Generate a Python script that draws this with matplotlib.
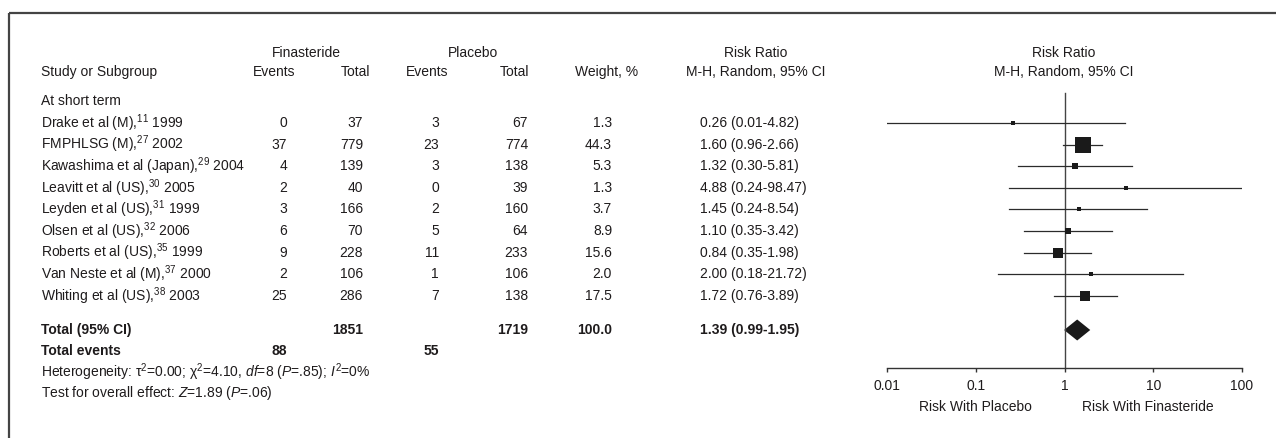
import numpy as np
import matplotlib
matplotlib.use("Agg")
import matplotlib.pyplot as plt
from matplotlib import font_manager
from matplotlib.patches import Polygon

# pick a condensed face if there is one
names = {f.name for f in font_manager.fontManager.ttflist}
FONT = "Liberation Sans Narrow" if "Liberation Sans Narrow" in names else "Liberation Sans"
plt.rcParams["font.family"] = [FONT, "DejaVu Sans"]
plt.rcParams["mathtext.fontset"] = "custom"
plt.rcParams["mathtext.rm"] = FONT
plt.rcParams["mathtext.it"] = FONT + ":italic"
plt.rcParams["mathtext.bf"] = FONT + ":bold"

studies = [
    "Drake et al (M),$^{11}$ 1999",
    "FMPHLSG (M),$^{27}$ 2002",
    "Kawashima et al (Japan),$^{29}$ 2004",
    "Leavitt et al (US),$^{30}$ 2005",
    "Leyden et al (US),$^{31}$ 1999",
    "Olsen et al (US),$^{32}$ 2006",
    "Roberts et al (US),$^{35}$ 1999",
    "Van Neste et al (M),$^{37}$ 2000",
    "Whiting et al (US),$^{38}$ 2003",
]
fin_events = [0, 37, 4, 2, 3, 6, 9, 2, 25]
fin_total = [37, 779, 139, 40, 166, 70, 228, 106, 286]
pla_events = [3, 23, 3, 0, 2, 5, 11, 1, 7]
pla_total = [67, 774, 138, 39, 160, 64, 233, 106, 138]
weights = [1.3, 44.3, 5.3, 1.3, 3.7, 8.9, 15.6, 2.0, 17.5]
rr = [0.26, 1.60, 1.32, 4.88, 1.45, 1.10, 0.84, 2.00, 1.72]
ci_lo = [0.01, 0.96, 0.30, 0.24, 0.24, 0.35, 0.35, 0.18, 0.76]
ci_hi = [4.82, 2.66, 5.81, 98.47, 8.54, 3.42, 1.98, 21.72, 3.89]

tot_fin_total = 1851
tot_pla_total = 1719
tot_fin_events = 88
tot_pla_events = 55
tot_weight = 100.0
tot_rr, tot_lo, tot_hi = 1.39, 0.99, 1.95

xticks = [0.01, 0.1, 1, 10, 100]
xtick_labels = ["0.01", "0.1", "1", "10", "100"]

W, H = 1276, 438
TXT = "#1e1b1c"
FS = 10

fig = plt.figure(figsize=(W / 100, H / 100), dpi=100)
bg = fig.add_axes([0, 0, 1, 1])
bg.set_xlim(0, W)
bg.set_ylim(H, 0)
bg.axis("off")

# frame (top and left only)
bg.plot([9, W], [13, 13], color="#444444", lw=1.6, solid_capstyle="butt")
bg.plot([9, 9], [13, H], color="#444444", lw=1.6, solid_capstyle="butt")

row0, step = 123, 21.6
rows = [row0 + i * step for i in range(len(studies))]
y_total = 330
y_events = 351
y_het = 372
y_test = 393


def t(x, y, s, ha="left", bold=False):
    bg.text(x, y, s, ha=ha, va="center", fontsize=FS, color=TXT,
            fontweight="bold" if bold else "normal")


# headers
t(306, 53, "Finasteride", ha="center")
t(473, 53, "Placebo", ha="center")
t(756, 53, "Risk Ratio", ha="center")
t(1064, 53, "Risk Ratio", ha="center")
t(41, 72, "Study or Subgroup")
t(295, 72, "Events", ha="right")
t(370, 72, "Total", ha="right")
t(448, 72, "Events", ha="right")
t(529, 72, "Total", ha="right")
t(638, 72, "Weight, %", ha="right")
t(756, 72, "M-H, Random, 95% CI", ha="center")
t(1064, 72, "M-H, Random, 95% CI", ha="center")

t(41, rows[0] - step, "At short term")
for i, y in enumerate(rows):
    t(41, y, studies[i])
    t(287, y, str(fin_events[i]), ha="right")
    t(363, y, str(fin_total[i]), ha="right")
    t(439, y, str(pla_events[i]), ha="right")
    t(528, y, str(pla_total[i]), ha="right")
    t(612, y, f"{weights[i]:.1f}", ha="right")
    t(700, y, f"{rr[i]:.2f} ({ci_lo[i]:.2f}-{ci_hi[i]:.2f})")

t(41, y_total, "Total (95% CI)", bold=True)
t(363, y_total, str(tot_fin_total), ha="right", bold=True)
t(528, y_total, str(tot_pla_total), ha="right", bold=True)
t(612, y_total, f"{tot_weight:.1f}", ha="right", bold=True)
t(700, y_total, f"{tot_rr:.2f} ({tot_lo:.2f}-{tot_hi:.2f})", bold=True)
t(41, y_events, "Total events", bold=True)
t(287, y_events, str(tot_fin_events), ha="right", bold=True)
t(439, y_events, str(tot_pla_events), ha="right", bold=True)
t(41, y_het, r"Heterogeneity: τ$^2$=0.00; χ$^2$=4.10, $df$=8 ($P$=.85); $I^2$=0%")
t(41, y_test, r"Test for overall effect: $Z$=1.89 ($P$=.06)")

# forest panel, y in pixel units so rows line up with the table
ax_top, ax_bot = 80, 368
x0, x1 = 887, 1242
ax = fig.add_axes([x0 / W, (H - ax_bot) / H, (x1 - x0) / W, (ax_bot - ax_top) / H])
ax.set_xscale("log")
ax.set_xlim(0.01, 100)
ax.set_ylim(ax_bot, ax_top)
ax.patch.set_alpha(0)
for s in ["top", "right", "left"]:
    ax.spines[s].set_visible(False)
ax.spines["bottom"].set_color("#333333")
ax.spines["bottom"].set_linewidth(1.0)
ax.set_yticks([])
ax.set_xticks(xticks)
ax.set_xticklabels(xtick_labels)
ax.minorticks_off()
ax.tick_params(axis="x", direction="out", length=3, width=1.0, color="#333333",
               pad=5, labelsize=FS, labelcolor=TXT)

ax.plot([1, 1], [93, ax_bot], color="#444444", lw=1.0)

for i, y in enumerate(rows):
    ax.plot([ci_lo[i], ci_hi[i]], [y, y], color="#2b2b2b", lw=0.9)
    side = max(3.2, 2.3 * np.sqrt(weights[i]))
    ax.plot(rr[i], y, marker="s", markersize=side * 0.72, color="#1a1a1a",
            markeredgewidth=0)

dh = 10.5
ax.add_patch(Polygon([[tot_lo, y_total], [tot_rr, y_total - dh],
                      [tot_hi, y_total], [tot_rr, y_total + dh]],
                     closed=True, facecolor="#1a1a1a", edgecolor="none"))

t(975, 407, "Risk With Placebo", ha="center")
t(1148, 407, "Risk With Finasteride", ha="center")

fig.savefig("out.png", dpi=100)
